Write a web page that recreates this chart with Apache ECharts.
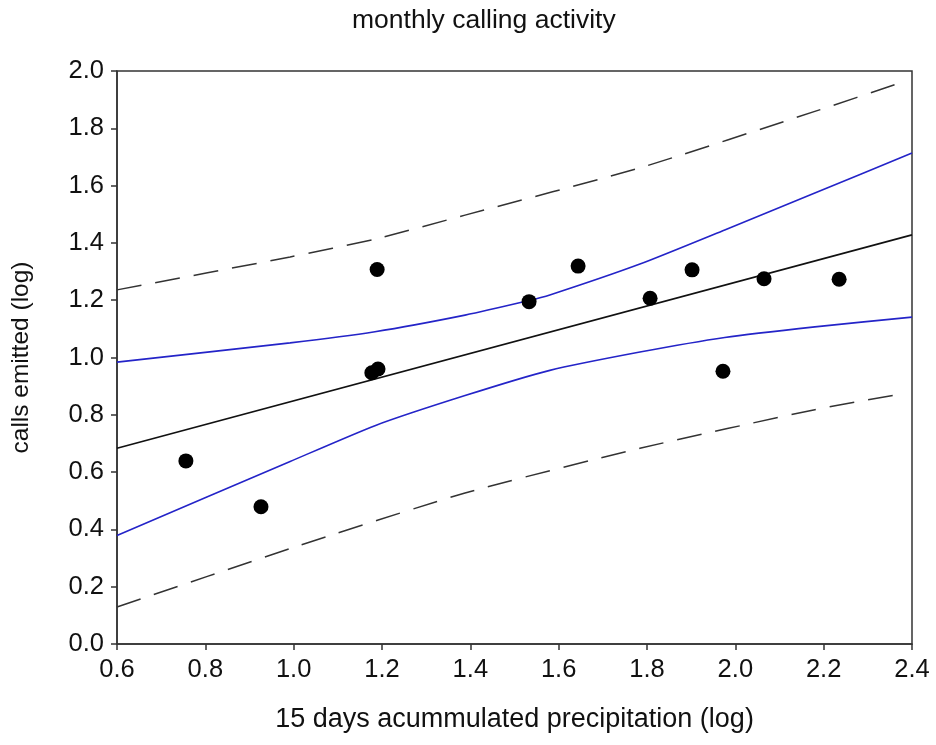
<!DOCTYPE html>
<html>
<head>
<meta charset="utf-8">
<script src="https://cdn.jsdelivr.net/npm/echarts@6/dist/echarts.min.js"></script>
<style>
html,body{margin:0;padding:0;background:#fff;}
#chart{width:936px;height:745px;}
</style>
</head>
<body>
<div id="chart"></div>
<script>
// observed points
const obsX = [0.756, 0.926, 1.177, 1.191, 1.189, 1.533, 1.644, 1.807, 1.902, 1.972, 2.065, 2.235];
const obsY = [0.639, 0.479, 0.947, 0.960, 1.307, 1.195, 1.319, 1.207, 1.306, 0.952, 1.275, 1.273];

// regression line (read endpoints)
const fitX = [0.6, 2.4];
const fitY = [0.683, 1.428];

// confidence band (blue)
const ciX      = [0.6,   0.992, 1.184, 1.388, 1.528, 1.580, 1.784, 1.976, 2.180, 2.4];
const ciUpper  = [0.984, 1.051, 1.090, 1.148, 1.197, 1.218, 1.326, 1.445, 1.574, 1.714];
const ciLowX   = [0.6,   0.992, 1.184, 1.388, 1.580, 1.784, 1.976, 2.180, 2.4];
const ciLower  = [0.379, 0.637, 0.762, 0.867, 0.955, 1.019, 1.070, 1.107, 1.141];

// prediction band (dashed)
const piUpX    = [0.6,   0.992, 1.184, 1.388, 1.784, 2.180, 2.380];
const piUpper  = [1.236, 1.351, 1.413, 1.497, 1.662, 1.859, 1.962];
const piLowX   = [0.6,   0.992, 1.388, 1.784, 2.180, 2.380];
const piLower  = [0.129, 0.333, 0.527, 0.683, 0.818, 0.874];

// axis ticks
const xMin = 0.6, xMax = 2.4, xStep = 0.2;
const yMin = 0.0, yMax = 2.0, yStep = 0.2;

const zip = (a, b) => a.map((v, i) => [v, b[i]]);

const chart = echarts.init(document.getElementById('chart'), null, {renderer: 'canvas'});
const fontFam = '"Liberation Sans", Arial, sans-serif';
const axisCol = '#333';
const txtCol = '#111';

chart.setOption({
  animation: false,
  backgroundColor: '#fff',
  title: {
    text: 'monthly calling activity',
    left: 352, top: 7, padding: 0,
    textStyle: {fontFamily: fontFam, fontSize: 26.5, fontWeight: 'normal', color: txtCol}
  },
  grid: {
    left: 117, right: 24, top: 71, bottom: 101,
    show: true, borderColor: axisCol, borderWidth: 1.5, backgroundColor: 'transparent'
  },
  xAxis: {
    type: 'value', min: xMin, max: xMax, interval: xStep,
    name: '15 days acummulated precipitation (log)',
    nameLocation: 'middle', nameGap: 62,
    nameTextStyle: {fontFamily: fontFam, fontSize: 27, color: txtCol},
    axisLine: {show: true, lineStyle: {color: axisCol, width: 1.5}},
    axisTick: {show: true, inside: false, length: 6, lineStyle: {color: axisCol, width: 1.5}},
    axisLabel: {fontFamily: fontFam, fontSize: 25.5, color: txtCol, margin: 13,
      formatter: v => v.toFixed(1)},
    splitLine: {show: false}
  },
  yAxis: {
    type: 'value', min: yMin, max: yMax, interval: yStep,
    name: 'calls emitted (log)',
    nameLocation: 'middle', nameGap: 83, nameRotate: 90,
    nameTextStyle: {fontFamily: fontFam, fontSize: 24.5, color: txtCol},
    axisLine: {show: true, lineStyle: {color: axisCol, width: 1.5}},
    axisTick: {show: true, inside: false, length: 6, lineStyle: {color: axisCol, width: 1.5}},
    axisLabel: {fontFamily: fontFam, fontSize: 25.5, color: txtCol, margin: 13,
      formatter: v => v.toFixed(1)},
    splitLine: {show: false}
  },
  series: [
    {
      name: 'prediction upper', type: 'line', data: zip(piUpX, piUpper),
      smooth: 0.2, showSymbol: false, symbol: 'none',
      lineStyle: {color: '#333', width: 1.5, type: [25, 14]}, z: 2
    },
    {
      name: 'prediction lower', type: 'line', data: zip(piLowX, piLower),
      smooth: 0.2, showSymbol: false, symbol: 'none',
      lineStyle: {color: '#333', width: 1.5, type: [25, 14]}, z: 2
    },
    {
      name: 'confidence upper', type: 'line', data: zip(ciX, ciUpper),
      smooth: 0.2, showSymbol: false, symbol: 'none',
      lineStyle: {color: '#2424c8', width: 1.6}, z: 3
    },
    {
      name: 'confidence lower', type: 'line', data: zip(ciLowX, ciLower),
      smooth: 0.2, showSymbol: false, symbol: 'none',
      lineStyle: {color: '#2424c8', width: 1.6}, z: 3
    },
    {
      name: 'fit', type: 'line', data: zip(fitX, fitY),
      showSymbol: false, symbol: 'none',
      lineStyle: {color: '#111', width: 1.6}, z: 4
    },
    {
      name: 'observed', type: 'scatter', data: zip(obsX, obsY),
      symbol: 'circle', symbolSize: 15,
      itemStyle: {color: '#000', opacity: 1}, z: 5
    }
  ]
});
</script>
</body>
</html>
